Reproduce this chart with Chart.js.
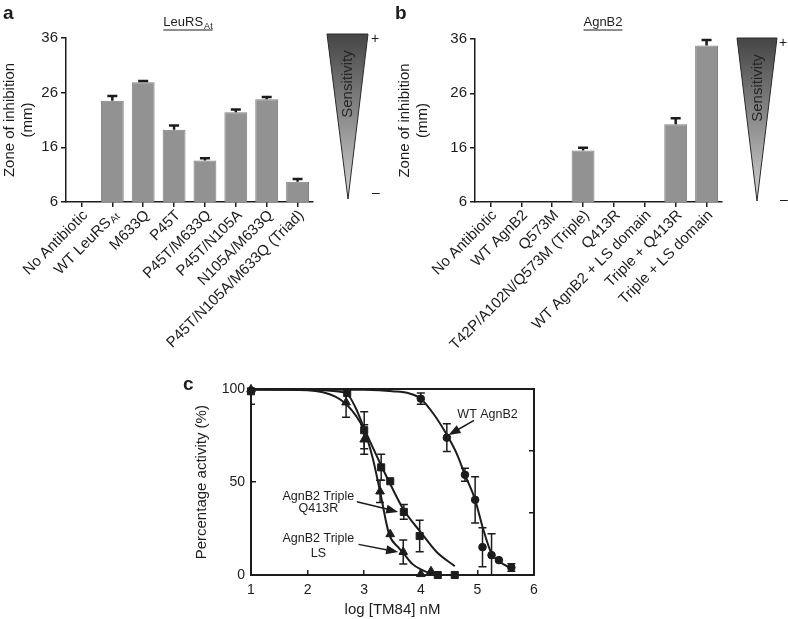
<!DOCTYPE html>
<html>
<head>
<meta charset="utf-8">
<script src="https://cdn.jsdelivr.net/npm/chart.js@4.4.1/dist/chart.umd.min.js"></script>
<style>
body { margin: 0; background: #fff; }
#wrap { position: relative; width: 788px; height: 619px; overflow: hidden; }
canvas { position: absolute; }
</style>
</head>
<body>
<div id="wrap">
  <canvas id="chartA" width="390" height="380" style="left:0;top:0"></canvas>
  <canvas id="chartB" width="398" height="380" style="left:390px;top:0"></canvas>
  <canvas id="chartC" width="380" height="249" style="left:180px;top:370px"></canvas>
</div>
<script>
// panel a - LeuRS At
const catsA = ['No Antibiotic', 'WT LeuRS_At', 'M633Q', 'P45T', 'P45T/M633Q', 'P45T/N105A', 'N105A/M633Q', 'P45T/N105A/M633Q (Triad)'];
const zoneA = [null, 24.5, 27.9, 19.2, 13.6, 22.4, 24.8, 9.7];
const errA = [0, 0.9, 0.25, 0.8, 0.4, 0.5, 0.4, 0.5];

// panel b - AgnB2
const catsB = ['No Antibiotic', 'WT AgnB2', 'Q573M', 'T42P/A102N/Q573M (Triple)', 'Q413R', 'WT AgnB2 + LS domain', 'Triple + Q413R', 'Triple + LS domain'];
const zoneB = [null, null, null, 15.5, null, null, 20.3, 34.8];
const errB = [0, 0, 0, 0.5, 0, 0, 1.1, 1.0];

// panel c - measured points
const wtX = [4.0, 4.46, 4.78, 4.96, 5.09, 5.25, 5.38, 5.6];
const wtY = [95, 74, 54, 40.5, 15, 10.7, 8, 4];
const wtErr = [3, 7.5, 3.5, 12.5, 10.5, 11.5, 0, 2];

const q413rX = [1, 2.7, 3.0, 3.3, 3.46, 3.7, 3.98, 4.3, 4.6];
const q413rY = [99, 98, 78, 58, 50.5, 34, 21, 0, 0];
const q413rErr = [7, 0, 10, 7, 0, 4, 8.5, 0, 0];

const lsX = [1, 2.68, 3.0, 3.28, 3.46, 3.69, 4.0, 4.18];
const lsY = [100, 93, 73, 45, 22, 12.4, 0.5, 2];
const lsErr = [0, 8, 8, 6, 0, 6.5, 0, 0];

// panel c - fitted curves
const wtCurveX = [1, 2, 3, 3.5, 3.8, 4.0, 4.22, 4.46, 4.64, 4.78, 4.96, 5.09, 5.25, 5.4, 5.6];
const wtCurveY = [100, 100, 99.8, 99, 97.8, 95, 87, 75.5, 65, 54, 40.5, 26, 11.5, 7, 3.5];
const q413rCurveX = [1, 2, 2.5, 2.7, 2.85, 3.0, 3.3, 3.46, 3.7, 4.0, 4.28, 4.6];
const q413rCurveY = [100, 99.8, 99, 97.5, 90, 79, 59, 49, 35, 23, 12.4, 4.8];
const lsCurveX = [1, 2, 2.5, 2.7, 2.85, 3.0, 3.15, 3.28, 3.44, 3.6, 3.7, 3.85, 4.0, 4.16, 4.3];
const lsCurveY = [100, 99.5, 96, 91.5, 86, 78, 63, 45, 22, 15, 11.5, 6, 3, 1, 0.3];

const FAM = '"Liberation Sans", Arial, Helvetica, sans-serif';
const INK = '#1c1c1c';
const BAR = '#929292';

const errorBars = {
  id: 'errorBars',
  afterDatasetsDraw(chart, args, opts) {
    const ctx = chart.ctx, ys = chart.scales.y, a = chart.chartArea;
    ctx.save();
    if (opts.clip) {
      ctx.beginPath();
      ctx.rect(a.left, a.top, a.right - a.left, a.bottom - a.top);
      ctx.clip();
    }
    ctx.strokeStyle = INK;
    ctx.lineWidth = opts.width;
    chart.data.datasets.forEach((ds, di) => {
      if (!ds.errors) return;
      const meta = chart.getDatasetMeta(di);
      ds.data.forEach((v, i) => {
        const e = ds.errors[i];
        if (v == null || !e) return;
        const val = typeof v === 'object' ? v.y : v;
        const x = meta.data[i].x;
        const hi = ys.getPixelForValue(val + e);
        const lo = ys.getPixelForValue(opts.both ? val - e : val);
        ctx.beginPath();
        ctx.moveTo(x, lo); ctx.lineTo(x, hi);
        ctx.moveTo(x - opts.cap, hi); ctx.lineTo(x + opts.cap, hi);
        if (opts.both) { ctx.moveTo(x - opts.cap, lo); ctx.lineTo(x + opts.cap, lo); }
        ctx.stroke();
      });
    });
    ctx.restore();
  }
};

function titleSub(ctx, main, sub, cx, y) {
  ctx.font = '13px ' + FAM;
  const w1 = ctx.measureText(main).width;
  ctx.font = '9px ' + FAM;
  const w2 = sub ? ctx.measureText(sub).width + 1 : 0;
  const x0 = cx - (w1 + w2) / 2;
  ctx.textAlign = 'left';
  ctx.textBaseline = 'alphabetic';
  ctx.font = '13px ' + FAM;
  ctx.fillText(main, x0, y);
  if (sub) { ctx.font = '9px ' + FAM; ctx.fillText(sub, x0 + w1 + 1, y + 3); }
  ctx.beginPath();
  ctx.moveTo(x0, y + 4); ctx.lineTo(x0 + w1 + w2, y + 4);
  ctx.lineWidth = 1; ctx.strokeStyle = INK; ctx.stroke();
}

const decor = {
  id: 'decor',
  afterDraw(chart, args, o) {
    const ctx = chart.ctx, xs = chart.scales.x;
    ctx.save();
    ctx.fillStyle = INK;
    ctx.font = 'bold 19px ' + FAM;
    ctx.textAlign = 'left'; ctx.textBaseline = 'alphabetic';
    ctx.fillText(o.letter, o.letterX, 19);
    const tp = o.title.split('_');
    titleSub(ctx, tp[0], tp[1], o.titleX, 26);

    // rotated category labels
    chart.data.labels.forEach((lab, i) => {
      const parts = lab.split('_');
      const x = xs.getPixelForTick(i);
      ctx.save();
      ctx.translate(x + 4, xs.top + 11);
      ctx.rotate(-Math.PI / 4);
      ctx.textAlign = 'right';
      ctx.textBaseline = 'middle';
      let off = 0;
      if (parts[1]) {
        ctx.font = '10px ' + FAM;
        ctx.fillText(parts[1], 0, 3);
        off = ctx.measureText(parts[1]).width + 1;
      }
      ctx.font = '15px ' + FAM;
      ctx.fillText(parts[0], -off, 0);
      ctx.restore();
    });

    // sensitivity wedge
    const w = o.wedge;
    const g = ctx.createLinearGradient(0, w.top, 0, w.tipY);
    g.addColorStop(0, '#454545');
    g.addColorStop(1, '#d2d2d2');
    ctx.beginPath();
    ctx.moveTo(w.x0, w.top); ctx.lineTo(w.x1, w.top); ctx.lineTo(w.tipX, w.tipY);
    ctx.closePath();
    ctx.fillStyle = g; ctx.fill();
    ctx.strokeStyle = '#2a2a2a'; ctx.lineWidth = 1; ctx.stroke();
    ctx.save();
    ctx.translate(w.textX, w.textY);
    ctx.rotate(-Math.PI / 2);
    ctx.font = '15px ' + FAM;
    ctx.fillStyle = '#262626';
    ctx.textAlign = 'center'; ctx.textBaseline = 'middle';
    ctx.fillText('Sensitivity', 0, 0);
    ctx.restore();
    ctx.fillStyle = INK;
    ctx.font = '14px ' + FAM;
    ctx.textAlign = 'center'; ctx.textBaseline = 'middle';
    ctx.fillText('+', w.signX, w.plusY);
    ctx.fillText('\u2013', w.signX + 1, w.minusY);
    ctx.restore();
  }
};

function barConfig(cats, vals, errs, yWidth, rightPad, top, titlePad, dec) {
  return {
    type: 'bar',
    data: {
      labels: cats,
      datasets: [{
        data: vals, errors: errs,
        backgroundColor: BAR, borderColor: '#7e7e7e', borderWidth: 1,
        barPercentage: 0.74, categoryPercentage: 1
      }]
    },
    options: {
      responsive: false, devicePixelRatio: 1, animation: false,
      layout: { padding: { left: 0, right: rightPad, top: top, bottom: 0 } },
      plugins: {
        legend: { display: false }, tooltip: { enabled: false },
        errorBars: { width: 2.5, cap: 5, both: false, clip: false },
        decor: dec
      },
      scales: {
        x: {
          offset: true,
          grid: { offset: false, drawOnChartArea: false, tickLength: 5, color: INK, lineWidth: 1.5 },
          border: { color: INK, width: 1.5 },
          ticks: { display: false },
          afterFit: s => { s.height = 178; }
        },
        y: {
          min: 6, max: 36,
          ticks: { stepSize: 10, font: { size: 15, family: FAM }, color: INK, padding: 3 },
          grid: { drawOnChartArea: false, tickLength: 5, color: INK, lineWidth: 1.5 },
          border: { color: INK, width: 1.5 },
          title: { display: true, text: ['Zone of inhibition', '(mm)'], font: { size: 15, family: FAM }, color: INK, padding: { top: titlePad, bottom: 0 } },
          afterFit: s => { s.width = yWidth; }
        }
      }
    },
    plugins: [errorBars, decor]
  };
}

new Chart('chartA', barConfig(catsA, zoneA, errA, 66, 77, 38, 1, {
  letter: 'a', letterX: 3, title: 'LeuRS_At', titleX: 188,
  wedge: { x0: 327, x1: 368, top: 34, tipX: 348, tipY: 199, textX: 348, textY: 84, signX: 375, plusY: 39, minusY: 193 }
}));

new Chart('chartB', barConfig(catsB, zoneB, errB, 85, 66, 39, 6, {
  letter: 'b', letterX: 5, title: 'AgnB2', titleX: 213,
  wedge: { x0: 347, x1: 387, top: 38, tipX: 367, tipY: 201, textX: 368, textY: 88, signX: 393, plusY: 43, minusY: 200 }
}));

// panel c
function pts(xs, ys) { return xs.map((x, i) => ({ x: x, y: ys[i] })); }
function curve(xs, ys) {
  return { data: pts(xs, ys), showLine: true, pointRadius: 0, borderColor: INK, borderWidth: 2,
    cubicInterpolationMode: 'monotone', clip: false, xAxisID: 'x', yAxisID: 'y' };
}
function marks(xs, ys, errs, style, r) {
  return { data: pts(xs, ys), errors: errs, showLine: false, pointStyle: style, pointRadius: r,
    backgroundColor: INK, borderColor: INK, borderWidth: 1, clip: false, xAxisID: 'x', yAxisID: 'y' };
}

function arrow(ctx, x1, y1, x2, y2) {
  const ang = Math.atan2(y2 - y1, x2 - x1), L = 12, W = 4.5;
  const c = Math.cos(ang), s = Math.sin(ang);
  ctx.beginPath();
  ctx.moveTo(x1, y1); ctx.lineTo(x2 - L * 0.8 * c, y2 - L * 0.8 * s);
  ctx.lineWidth = 1.5; ctx.stroke();
  ctx.beginPath();
  ctx.moveTo(x2, y2);
  ctx.lineTo(x2 - L * c + W * s, y2 - L * s - W * c);
  ctx.lineTo(x2 - L * c - W * s, y2 - L * s + W * c);
  ctx.closePath(); ctx.fill();
}

const notes = {
  id: 'notes',
  afterDraw(chart) {
    const ctx = chart.ctx, xs = chart.scales.x, ys = chart.scales.y;
    const px = v => xs.getPixelForValue(v), py = v => ys.getPixelForValue(v);
    ctx.save();
    ctx.fillStyle = INK; ctx.strokeStyle = INK;
    ctx.font = 'bold 19px ' + FAM;
    ctx.textAlign = 'left'; ctx.textBaseline = 'alphabetic';
    ctx.fillText('c', 3, 20);
    ctx.font = '12.5px ' + FAM;
    ctx.textAlign = 'center'; ctx.textBaseline = 'middle';
    ctx.fillText('WT AgnB2', px(5.18), py(86.7));
    arrow(ctx, px(4.94), py(83.3), px(4.49), py(75.4));
    ctx.fillText('AgnB2 Triple', px(2.19), py(42.5));
    ctx.fillText('Q413R', px(2.19), py(35.8));
    arrow(ctx, px(2.87), py(39.5), px(3.6), py(34));
    ctx.fillText('AgnB2 Triple', px(2.19), py(19.5));
    ctx.fillText('LS', px(2.19), py(11.5));
    arrow(ctx, px(2.9), py(16.5), px(3.6), py(12.4));
    ctx.restore();
  }
};

new Chart('chartC', {
  type: 'scatter',
  data: {
    datasets: [
      curve(wtCurveX, wtCurveY),
      curve(q413rCurveX, q413rCurveY),
      curve(lsCurveX, lsCurveY),
      marks(wtX, wtY, wtErr, 'circle', 3.8),
      marks(q413rX, q413rY, q413rErr, 'rect', 5),
      marks(lsX, lsY, lsErr, 'triangle', 5)
    ]
  },
  options: {
    responsive: false, devicePixelRatio: 1, animation: false,
    layout: { padding: { left: 0, right: 26, top: 17, bottom: 0 } },
    plugins: {
      legend: { display: false }, tooltip: { enabled: false },
      errorBars: { width: 1.5, cap: 4, both: true, clip: true }
    },
    scales: {
      x: {
        type: 'linear', min: 1, max: 6,
        ticks: { stepSize: 1, font: { size: 14, family: FAM }, color: INK, padding: 12 },
        grid: { drawOnChartArea: false, tickLength: -5, color: INK, lineWidth: 1.5 },
        border: { color: INK, width: 2 },
        title: { display: true, text: 'log [TM84] nM', font: { size: 15, family: FAM }, color: INK, padding: { top: 0, bottom: 0 } },
        afterFit: s => { s.height = 44; }
      },
      x2: {
        type: 'linear', position: 'top', min: 1, max: 6,
        ticks: { display: false },
        grid: { drawOnChartArea: false, drawTicks: false },
        border: { color: INK, width: 2 },
        afterFit: s => { s.height = 0; }
      },
      y: {
        min: 0, max: 100,
        ticks: { stepSize: 50, font: { size: 14, family: FAM }, color: INK, padding: 11 },
        grid: { drawOnChartArea: false, tickLength: -5, color: INK, lineWidth: 1.5 },
        border: { color: INK, width: 2 },
        title: { display: true, text: 'Percentage activity (%)', font: { size: 15, family: FAM }, color: INK, padding: { top: 13, bottom: 0 } },
        afterFit: s => { s.width = 71; }
      },
      y2: {
        position: 'right', min: 0, max: 100,
        ticks: { display: false },
        afterBuildTicks: s => { s.ticks = [{ value: 33.4 }, { value: 66.9 }]; },
        grid: { drawOnChartArea: false, tickLength: -5, color: INK, lineWidth: 1.5 },
        border: { color: INK, width: 2 },
        afterFit: s => { s.width = 0; }
      }
    }
  },
  plugins: [errorBars, notes]
});
</script>
</body>
</html>
